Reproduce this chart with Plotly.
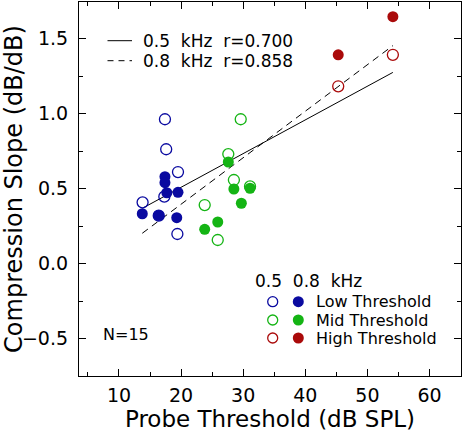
import numpy as np
import plotly.graph_objects as go

# 0.5 kHz (open circles)
open_low_x = [17.4, 17.6, 19.5, 13.8, 17.3, 19.4, 16.4]
open_low_y = [0.963, 0.763, 0.611, 0.409, 0.447, 0.198, 0.32]
open_mid_x = [29.6, 27.6, 28.5, 23.8, 25.9, 31.1]
open_mid_y = [0.963, 0.731, 0.558, 0.391, 0.158, 0.515]
open_high_x = [45.3, 54.1]
open_high_y = [1.183, 1.393]

# 0.8 kHz (filled circles)
fill_low_x = [13.75, 16.4, 17.4, 17.4, 17.7, 19.3, 19.5]
fill_low_y = [0.333, 0.322, 0.58, 0.54, 0.473, 0.307, 0.476]
fill_mid_x = [27.6, 28.5, 31.1, 23.8, 25.9, 29.7]
fill_mid_y = [0.678, 0.498, 0.503, 0.229, 0.278, 0.403]
fill_high_x = [45.3, 54.1]
fill_high_y = [1.393, 1.647]

x_ticks = [10, 20, 30, 40, 50, 60]
y_ticks = [-0.5, 0.0, 0.5, 1.0, 1.5]
group_labels = ["Low Threshold", "Mid Threshold", "High Threshold"]
fit_labels = ["0.5\u00a0\u00a0kHz\u00a0\u00a0r=0.700", "0.8\u00a0\u00a0kHz\u00a0\u00a0r=0.858"]

BLUE = "#0A0AA0"
GREEN = "#14B414"
RED = "#AA0A0A"
colors = [BLUE, GREEN, RED]
FONT = "DejaVu Sans"

fig = go.Figure()

# regression lines
def fit_line(xs, ys):
    xs = np.array(xs); ys = np.array(ys)
    m, b = np.polyfit(xs, ys, 1)
    xx = np.array([xs.min(), xs.max()])
    return xx, m * xx + b

ox = open_low_x + open_mid_x + open_high_x
oy = open_low_y + open_mid_y + open_high_y
fx = fill_low_x + fill_mid_x + fill_high_x
fy = fill_low_y + fill_mid_y + fill_high_y
lx, ly = fit_line(ox, oy)
fig.add_trace(go.Scatter(x=lx, y=ly, mode="lines", line=dict(color="black", width=1)))
lx2, ly2 = fit_line(fx, fy)
fig.add_trace(go.Scatter(x=lx2, y=ly2, mode="lines", line=dict(color="black", width=1, dash="7px,5px")))

opens = [(open_low_x, open_low_y), (open_mid_x, open_mid_y), (open_high_x, open_high_y)]
fills = [(fill_low_x, fill_low_y), (fill_mid_x, fill_mid_y), (fill_high_x, fill_high_y)]
for (xs, ys), c in zip(opens, colors):
    fig.add_trace(go.Scatter(x=xs, y=ys, mode="markers",
                             marker=dict(symbol="circle-open", size=11, color=c, line=dict(width=1.3, color=c))))
for (xs, ys), c in zip(fills, colors):
    fig.add_trace(go.Scatter(x=xs, y=ys, mode="markers",
                             marker=dict(symbol="circle", size=11, color=c, line=dict(width=0))))

L, R, T, B = 79, 461, 2, 376
def px(x): return (x - L) / (R - L)
def py(y): return (B - y) / (B - T)

shapes = []
annotations = []
# top-left fit legend
for i, (yy, dash) in enumerate([(40.7, "solid"), (60.7, "6px,5px")]):
    shapes.append(dict(type="line", xref="paper", yref="paper", x0=px(107.5), x1=px(132), y0=py(yy), y1=py(yy),
                       line=dict(color="black", width=1, dash=dash)))
    annotations.append(dict(xref="paper", yref="paper", x=px(141), y=py(yy), text=fit_labels[i], showarrow=False,
                            xanchor="left", yanchor="middle", font=dict(family=FONT, size=17, color="black")))

# lower-right group legend
annotations.append(dict(xref="paper", yref="paper", x=px(253), y=py(281), text="0.5\u00a0\u00a00.8\u00a0\u00a0kHz",
                        showarrow=False, xanchor="left", yanchor="middle", font=dict(family=FONT, size=17, color="black")))
for i, (lab, c) in enumerate(zip(group_labels, colors)):
    yy = [301.7, 320, 338][i]
    shapes.append(dict(type="circle", xref="paper", yref="paper", xsizemode="pixel", ysizemode="pixel",
                       xanchor=px(272.7), yanchor=py(yy), x0=-5, x1=5, y0=-5, y1=5,
                       line=dict(color=c, width=1.3)))
    shapes.append(dict(type="circle", xref="paper", yref="paper", xsizemode="pixel", ysizemode="pixel",
                       xanchor=px(298.3), yanchor=py(yy), x0=-5.5, x1=5.5, y0=-5.5, y1=5.5,
                       line=dict(color=c, width=0), fillcolor=c))
    annotations.append(dict(xref="paper", yref="paper", x=px(314), y=py(yy), text=lab.replace(" ", "\u00a0"),
                            showarrow=False, xanchor="left", yanchor="middle",
                            font=dict(family=FONT, size=16, color="black")))

annotations.append(dict(xref="paper", yref="paper", x=px(101), y=py(334), text="N=15", showarrow=False,
                        xanchor="left", yanchor="middle", font=dict(family=FONT, size=16, color="black")))

axis_common = dict(showline=True, linecolor="black", linewidth=1.2, mirror="allticks", ticks="inside",
                   ticklen=7, tickwidth=1, tickcolor="black", showgrid=False, zeroline=False,
                   automargin=False,
                   tickfont=dict(family=FONT, size=19, color="black"))

fig.update_layout(
    width=470, height=432,
    margin=dict(l=L, r=470 - R, t=T, b=432 - B),
    paper_bgcolor="white", plot_bgcolor="white",
    showlegend=False,
    shapes=shapes, annotations=annotations,
    xaxis=dict(range=[3.56, 65.07], tickvals=x_ticks, ticktext=[str(v) for v in x_ticks],
               minor=dict(dtick=5, tick0=0, ticks="inside", ticklen=4, tickcolor="black", tickwidth=1),
               title=dict(text="Probe Threshold (dB SPL)", font=dict(family=FONT, size=23, color="black"), standoff=3),
               ticklabelstandoff=2,
               **axis_common),
    yaxis=dict(range=[-0.749, 1.745], tickvals=y_ticks, ticktext=[f"{v:.1f}".replace("-", "\u2212") for v in y_ticks],
               minor=dict(dtick=0.25, tick0=0, ticks="inside", ticklen=4, tickcolor="black", tickwidth=1),
               title=dict(text="Compression Slope (dB/dB)", font=dict(family=FONT, size=24, color="black"), standoff=3),
               ticklabelstandoff=6,
               **axis_common),
)

fig.write_html("out.html", config={"displayModeBar": False},
               post_script="document.body.style.margin='0px';document.body.style.padding='0px';")
